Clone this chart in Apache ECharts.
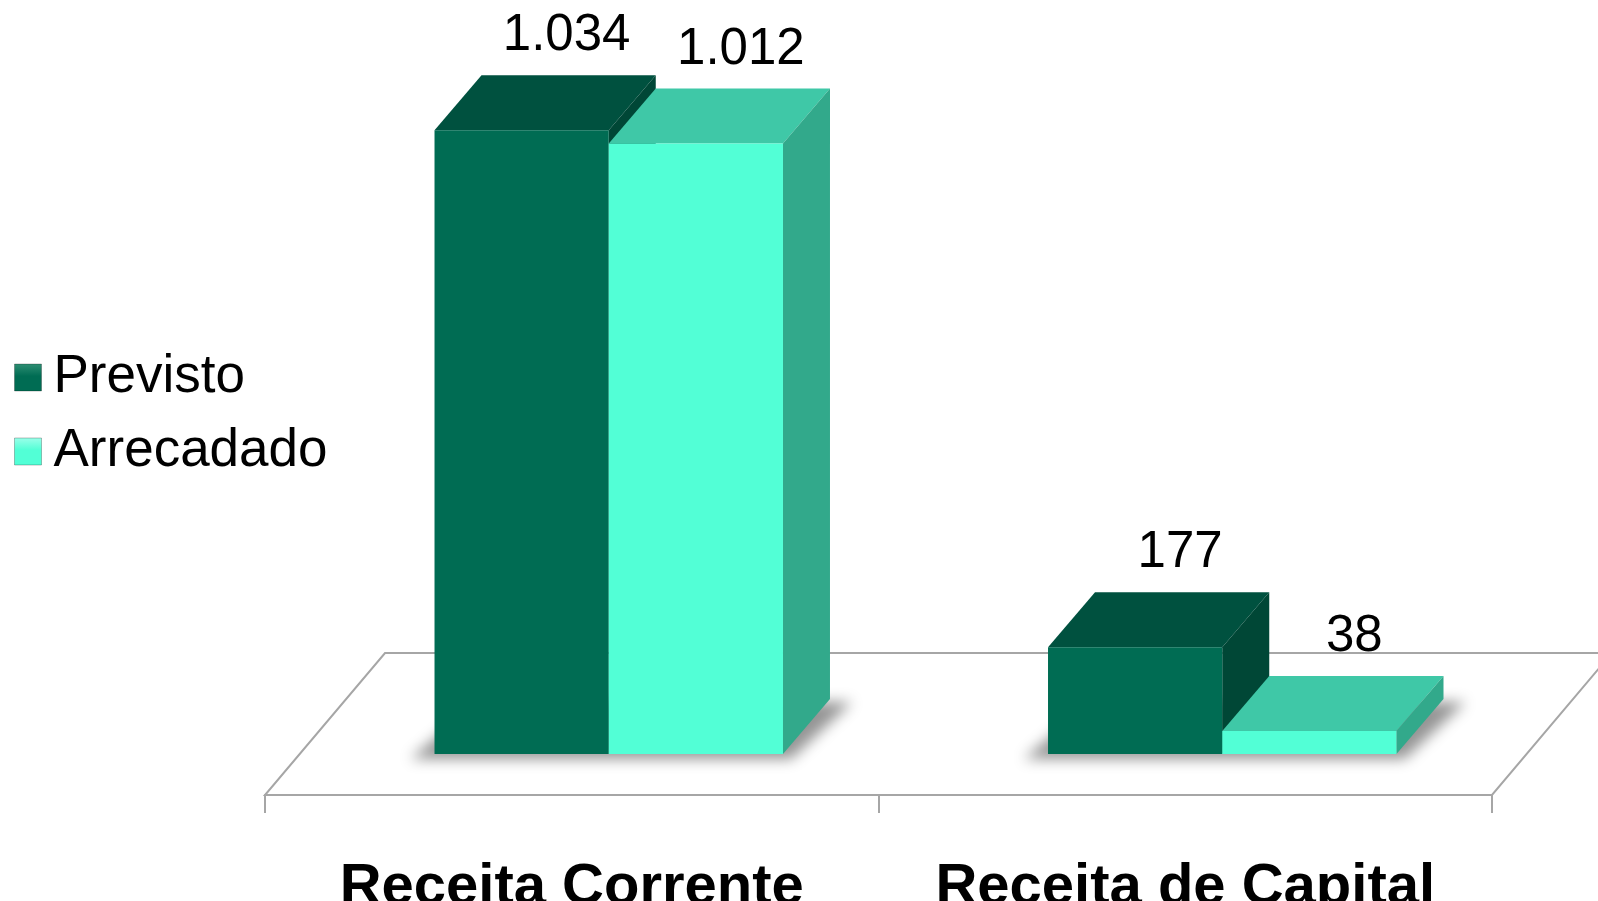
<!DOCTYPE html>
<html>
<head>
  <meta charset="utf-8" />
  <script src="https://cdn.jsdelivr.net/npm/echarts@6/dist/echarts.min.js"></script>
  <style>
    html, body { margin: 0; padding: 0; background: #fff; }
    #main { width: 1598px; height: 901px; }
  </style>
  <title>Receitas</title>
</head>
<body>
  <div id="main"></div>
  <script>
    // dados do grafico
    var categorias = ['Receita Corrente', 'Receita de Capital'];
    var seriesNomes = ['Previsto', 'Arrecadado'];
    var previsto = [1034, 177];
    var arrecadado = [1012, 38];

    var fonte = "'Liberation Sans', Arial, sans-serif";
    // cores das faces: frente, topo, lateral
    var cores = [
      { frente: '#006C53', topo: '#00513F', lado: '#004736', claro: '#2F8F74' },
      { frente: '#52FFD6', topo: '#3FC8A7', lado: '#32A98B', claro: '#9DFFEA' }
    ];
    var profX = 47, profY = -55;     // profundidade das barras
    var pisoX = 120, pisoY = -142;   // profundidade do piso
    var offsetEixo = 41;             // eixo na borda da frente do piso
    var desloc = 37;                 // barras ficam no meio do piso

    function fmt(v) {
      return String(v).replace(/\B(?=(\d{3})+(?!\d))/g, '.');
    }

    function montaDados(arr) {
      return arr.map(function (v, i) { return [i, v]; });
    }

    function geometria(api, serie) {
      var cat = api.value(0);
      var topo = api.coord([cat, api.value(1)]);
      var base = api.coord([cat, 0]);
      var w = api.size([1, 0])[0] * 0.284;
      var x0 = base[0] + desloc - w + serie * w;
      return { x0: x0, x1: x0 + w, yb: base[1], yt: topo[1], w: w };
    }

    function barra(serie) {
      return function (params, api) {
        var g = geometria(api, serie);
        var c = cores[serie];
        var x0 = g.x0, x1 = g.x1, yb = g.yb, yt = g.yt;
        return {
          type: 'group',
          children: [
            {
              type: 'polygon',
              shape: { points: [[x0, yt], [x1, yt], [x1 + profX, yt + profY], [x0 + profX, yt + profY]] },
              style: { fill: c.topo }
            },
            {
              type: 'polygon',
              shape: { points: [[x1, yt], [x1 + profX, yt + profY], [x1 + profX, yb + profY], [x1, yb]] },
              style: { fill: c.lado }
            },
            {
              type: 'rect',
              shape: { x: x0, y: yt, width: x1 - x0, height: yb - yt },
              style: { fill: c.frente }
            },
            {
              type: 'text',
              x: (x0 + x1) / 2 + 45,
              y: yt + profY - 39,
              style: {
                text: fmt(api.value(1)),
                fontSize: 51,
                fontFamily: fonte,
                fill: '#000',
                align: 'center',
                verticalAlign: 'middle'
              }
            }
          ]
        };
      };
    }

    // sombra suave debaixo de cada grupo (so o desfoque aparece)
    function sombra(params, api) {
      var cat = api.value(0);
      var base = api.coord([cat, 0]);
      var w = api.size([1, 0])[0] * 0.284;
      var x0 = base[0] + desloc - w, x1 = base[0] + desloc + w;
      var yb = base[1];
      var fora = 3000;
      var pts = [[x0 - 24, yb + 5], [x1 + 8, yb + 5], [x1 + profX + 22, yb + profY + 3], [x0 + profX, yb + profY]];
      return {
        type: 'polygon',
        shape: { points: pts.map(function (p) { return [p[0] - fora, p[1]]; }) },
        style: {
          fill: '#000',
          shadowBlur: 14,
          shadowColor: 'rgba(0,0,0,0.42)',
          shadowOffsetX: fora,
          shadowOffsetY: 0
        }
      };
    }

    function piso(params, api) {
      var cs = params.coordSys;
      var fy = cs.y + cs.height + offsetEixo;
      var l = cs.x, r = cs.x + cs.width;
      return {
        type: 'polygon',
        shape: { points: [[l, fy], [r, fy], [r + pisoX, fy + pisoY], [l + pisoX, fy + pisoY]] },
        style: { fill: '#fff', stroke: '#A6A6A6', lineWidth: 2 }
      };
    }

    function gradLegenda(c) {
      return new echarts.graphic.LinearGradient(0, 0, 0, 1, [
        { offset: 0, color: c.claro },
        { offset: 0.45, color: c.frente },
        { offset: 1, color: c.frente }
      ]);
    }

    var chart = echarts.init(document.getElementById('main'));
    chart.setOption({
      animation: false,
      backgroundColor: '#fff',
      textStyle: { fontFamily: fonte },
      legend: {
        data: seriesNomes,
        orient: 'vertical',
        left: 14,
        top: 351,
        padding: 0,
        itemWidth: 27,
        itemHeight: 27,
        itemGap: 21,
        icon: 'rect',
        itemStyle: { borderColor: 'rgba(0,0,0,0.25)', borderWidth: 1 },
        textStyle: { fontSize: 53, fontFamily: fonte, color: '#000', padding: [0, 0, 0, 7] }
      },
      grid: { left: 265, right: 106, top: 0, bottom: 147, containLabel: false, outerBoundsMode: 'none' },
      xAxis: {
        type: 'category',
        data: categorias,
        offset: offsetEixo,
        z: 10,
        axisLine: { onZero: false, lineStyle: { color: '#A6A6A6', width: 2 } },
        axisTick: { show: true, interval: 0, inside: false, length: 18, lineStyle: { color: '#A6A6A6', width: 2 } },
        axisLabel: { interval: 0, margin: 64, fontSize: 58, fontWeight: 'bold', color: '#000', fontFamily: fonte }
      },
      yAxis: {
        type: 'value',
        min: 0,
        max: 1250,
        show: false,
        splitLine: { show: false }
      },
      series: [
        { type: 'custom', name: 'piso', data: [[0, 0]], renderItem: piso, silent: true, z: 1 },
        { type: 'custom', name: 'sombra', data: montaDados(previsto), renderItem: sombra, silent: true, z: 2 },
        {
          type: 'custom', name: seriesNomes[0], data: montaDados(previsto),
          renderItem: barra(0), itemStyle: { color: gradLegenda(cores[0]) }, z: 3,
          encode: { x: 0, y: 1 }
        },
        {
          type: 'custom', name: seriesNomes[1], data: montaDados(arrecadado),
          renderItem: barra(1), itemStyle: { color: gradLegenda(cores[1]) }, z: 3,
          encode: { x: 0, y: 1 }
        }
      ]
    });
  </script>
</body>
</html>
